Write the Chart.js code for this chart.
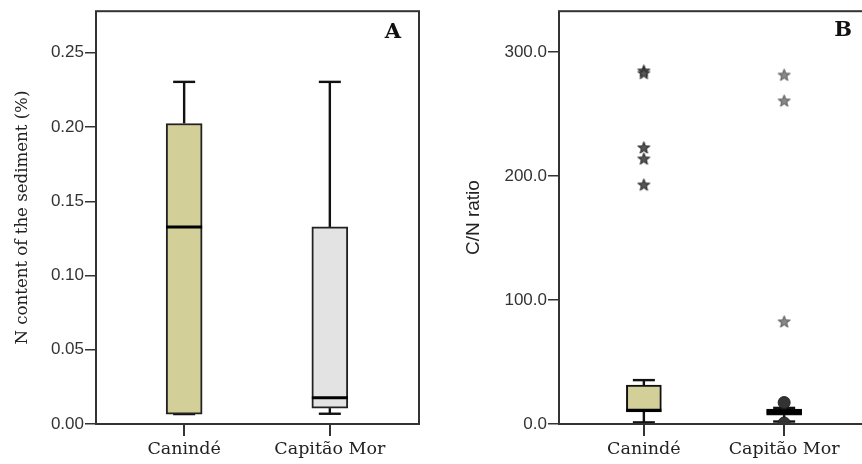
<!DOCTYPE html>
<html><head><meta charset="utf-8">
<script src="https://cdn.jsdelivr.net/npm/chart.js@4.4.1/dist/chart.umd.min.js"></script>
<style>
html,body{margin:0;padding:0;background:#fff;overflow:hidden;width:862px;height:464px;}
#wa{position:absolute;left:0;top:0;width:431px;height:464px;}
#wb{position:absolute;left:431px;top:0;width:450px;height:464px;}
</style></head><body>
<div id="wa"><canvas id="ca"></canvas></div>
<div id="wb"><canvas id="cb"></canvas></div>
<script>
// ---- data ----
const categories = ['Canindé', 'Capitão Mor'];
const catPos = [1, 2];
// Panel A: N content of the sediment (%)
const nLow = [0.0067, 0.0069];
const nQ1 = [0.0067, 0.0107];
const nMedian = [0.1327, 0.0177];
const nQ3 = [0.2024, 0.1327];
const nHigh = [0.2304, 0.2304];
const nTicks = [0, 0.05, 0.10, 0.15, 0.20, 0.25];
// Panel B: C/N ratio
const cnLow = [1.3, 2.0];
const cnQ1 = [9.8, 7.2];
const cnMedian = [11.0, 9.6];
const cnQ3 = [31.4, 12.0];
const cnHigh = [35.4, 13.0];
const cnExtremesCaninde = [285, 283, 223, 214, 193];
const cnExtremesCapitao = [281.6, 260.8, 82.6];
const cnOutliersCapitao = [17.3, 0.8];
const cnTicks = [0, 100, 200, 300];

const fillColors = ['#d3cf99', '#e3e3e3'];
const SERIF = '"DejaVu Serif", serif';
const SANS = '"Liberation Sans", Arial, sans-serif';

function starImg(fill, stroke) {
  const c = document.createElement('canvas'); c.width = 15; c.height = 15;
  const g = c.getContext('2d'); g.beginPath();
  for (let i = 0; i < 10; i++) {
    const r = i % 2 ? 2.6 : 6.3; const a = -Math.PI / 2 + i * Math.PI / 5;
    g.lineTo(7.5 + r * Math.cos(a), 8 + r * Math.sin(a));
  }
  g.closePath(); g.fillStyle = fill; g.fill(); g.strokeStyle = stroke; g.lineWidth = 1; g.stroke();
  return c;
}

const boxPlugin = {
  id: 'boxExtras',
  beforeDatasetsDraw(chart, args, o) {
    const {ctx} = chart; const xs = chart.scales.x, ys = chart.scales.y;
    ctx.save(); ctx.strokeStyle = '#111'; ctx.lineWidth = 2.4;
    catPos.forEach((c, i) => {
      const x = xs.getPixelForValue(c);
      const segs = [[o.q3[i], o.high[i]], [o.q1[i], o.low[i]]];
      segs.forEach(([a, b]) => {
        const ya = ys.getPixelForValue(a), yb = ys.getPixelForValue(b);
        ctx.beginPath(); ctx.moveTo(x, ya); ctx.lineTo(x, yb); ctx.stroke();
        ctx.beginPath(); ctx.moveTo(x - o.capW / 2, yb); ctx.lineTo(x + o.capW / 2, yb); ctx.stroke();
      });
    });
    ctx.restore();
  },
  afterDatasetsDraw(chart, args, o) {
    const {ctx} = chart; const xs = chart.scales.x, ys = chart.scales.y;
    ctx.save(); ctx.strokeStyle = '#000';
    catPos.forEach((c, i) => {
      ctx.lineWidth = o.medLW[i];
      const x = xs.getPixelForValue(c); const y = ys.getPixelForValue(o.med[i]);
      ctx.beginPath(); ctx.moveTo(x - o.boxW / 2, y); ctx.lineTo(x + o.boxW / 2, y); ctx.stroke();
    });
    ctx.restore();
  },
  afterDraw(chart, args, o) {
    const {ctx, chartArea: a} = chart;
    ctx.save(); ctx.strokeStyle = '#333'; ctx.lineWidth = 2;
    ctx.strokeRect(a.left, a.top, a.right - a.left, a.bottom - a.top);
    ctx.fillStyle = '#111'; ctx.font = 'bold 21px ' + SERIF; ctx.textAlign = 'center'; ctx.textBaseline = 'middle';
    ctx.fillText(o.letter, o.lx, o.ly);
    ctx.restore();
  }
};

function makeScales(yMax, ticksArr, dec, title, titleFont, titlePad, yWidth) {
  return {
    x: {
      type: 'linear', min: 0.395, max: 2.612, offset: false,
      afterBuildTicks: s => { s.ticks = catPos.map(v => ({value: v})); },
      afterFit: s => { s.height = 40; },
      ticks: {callback: v => categories[v - 1], font: {family: SERIF, size: 17.5}, color: '#222', padding: 3, autoSkip: false, maxRotation: 0},
      grid: {offset: false, drawOnChartArea: false, tickLength: 12, color: '#333', lineWidth: 2},
      border: {display: false}
    },
    y: {
      type: 'linear', min: 0, max: yMax,
      afterBuildTicks: s => { s.ticks = ticksArr.map(v => ({value: v})); },
      afterFit: s => { s.width = yWidth; },
      ticks: {callback: v => Number(v).toFixed(dec), font: {family: SANS, size: 17}, color: '#333', padding: 1},
      grid: {drawOnChartArea: false, tickLength: 11, color: '#333', lineWidth: 1.5},
      border: {display: false},
      title: {display: true, text: title, font: titleFont, color: '#222', padding: {top: titlePad, bottom: 0}}
    }
  };
}

const common = {
  responsive: true, maintainAspectRatio: false, animation: false, devicePixelRatio: 1,
  plugins: {legend: {display: false}, tooltip: {enabled: false}}
};

new Chart(document.getElementById('ca'), {
  type: 'bar',
  data: {datasets: [{
    type: 'bar',
    data: catPos.map((x, i) => ({x: x, y: [nQ1[i], nQ3[i]]})),
    backgroundColor: fillColors, borderColor: '#222', borderWidth: 2, borderSkipped: false, barThickness: 36
  }]},
  options: Object.assign({}, common, {
    layout: {padding: {left: 0, right: 12, top: 8, bottom: 0}},
    scales: makeScales(0.278, nTicks, 2, 'N content of the sediment (%)', {family: SERIF, size: 16.6}, 13.2, 96),
    plugins: Object.assign({}, common.plugins, {
      boxExtras: {low: nLow, q1: nQ1, med: nMedian, q3: nQ3, high: nHigh, capW: 22, boxW: 36, medLW: [3, 3], letter: 'A', lx: 393, ly: 33}
    })
  }),
  plugins: [boxPlugin]
});

new Chart(document.getElementById('cb'), {
  type: 'bar',
  data: {datasets: [
    {
      type: 'bar',
      data: catPos.map((x, i) => ({x: x, y: [cnQ1[i], cnQ3[i]]})),
      backgroundColor: fillColors, borderColor: '#111', borderWidth: 2, borderSkipped: false, barThickness: 35
    },
    {
      type: 'scatter',
      data: cnExtremesCaninde.map(v => ({x: catPos[0], y: v})),
      pointStyle: starImg('#555', '#222'), pointRadius: 6
    },
    {
      type: 'scatter',
      data: cnExtremesCapitao.map(v => ({x: catPos[1], y: v})),
      pointStyle: starImg('#888', '#555'), pointRadius: 6
    },
    {
      type: 'scatter',
      data: cnOutliersCapitao.map(v => ({x: catPos[1], y: v})),
      pointStyle: 'circle', pointRadius: 6, backgroundColor: '#333', borderColor: '#222', borderWidth: 1
    }
  ]},
  options: Object.assign({}, common, {
    layout: {padding: {left: 0, right: 11, top: 8, bottom: 0}},
    scales: makeScales(333, cnTicks, 1, 'C/N ratio', {family: SANS, size: 19}, 31.6, 128),
    plugins: Object.assign({}, common.plugins, {
      boxExtras: {low: cnLow, q1: cnQ1, med: cnMedian, q3: cnQ3, high: cnHigh, capW: 22, boxW: 35, medLW: [3, 5], letter: 'B', lx: 412, ly: 31}
    })
  }),
  plugins: [boxPlugin]
});
</script>
</body></html>
